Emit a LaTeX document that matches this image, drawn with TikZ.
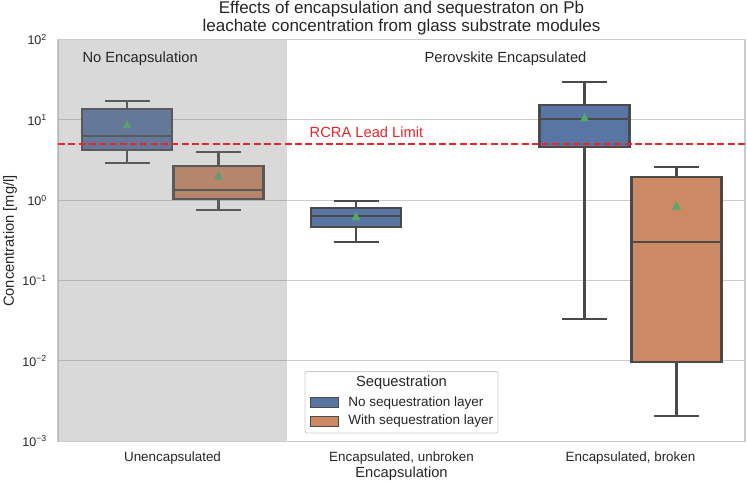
\documentclass[tikz,border=0pt]{standalone}
\usepackage{fontspec}
\setmainfont{Liberation Sans}
\usetikzlibrary{positioning}
\definecolor{boxblue}{HTML}{5975A4}
\definecolor{boxorange}{HTML}{CC8963}
\definecolor{boxline}{HTML}{4A4A4A}
\definecolor{meangreen}{HTML}{55A868}
\definecolor{gridgray}{HTML}{CCCCCC}
\definecolor{limitred}{HTML}{E8252B}
\definecolor{textgray}{HTML}{262626}

\begin{document}
\begin{tikzpicture}[
  x=1pt, y=80.3pt,
  every node/.style={text=textgray},
  gridline/.style={gridgray,line width=1pt},
  whisk/.style={boxline,line width=2.1pt},
  titlefont/.style={font=\fontsize{17}{20}\selectfont},
  bigtext/.style={font=\fontsize{14.7}{17}\selectfont},
  ticktext/.style={font=\fontsize{13.4}{16}\selectfont},
  ytick/.style={font=\fontsize{12.5}{15}\selectfont,anchor=east,inner sep=0pt},
  legpatch/.style={draw=boxline,line width=0.8pt,minimum width=28pt,minimum height=10pt,inner sep=0pt},
  legtext/.style={font=\fontsize{13.5}{16}\selectfont,inner sep=0pt,anchor=west}
]
\useasboundingbox (0,-3.532) rectangle (747,2.494);
% grid and frame
\foreach \d in {-2,...,1}
  \draw[gridline] (58,\d) -- (745,\d);
\draw[gridgray,line width=1.2pt] (58,-3) rectangle (745,2);
% boxes: centre / low whisker / q1 / median / q3 / high whisker / mean / colour
\foreach \cx/\lo/\qa/\md/\qb/\hi/\mn/\col in {
  127/0.468/0.626/0.795/1.133/1.237/0.946/boxblue,
  218.5/-0.121/0.016/0.128/0.431/0.605/0.306/boxorange,
  356/-0.516/-0.329/-0.192/-0.092/-0.009/-0.2/boxblue,
  584.5/-1.474/0.66/1.009/1.187/1.469/1.031/boxblue,
  676.5/-2.686/-2.01/-0.516/0.286/0.415/-0.067/boxorange}
{
  \draw[whisk] (\cx,\lo) -- (\cx,\qa) (\cx,\qb) -- (\cx,\hi);
  \draw[whisk] (\cx-22.5,\lo) -- (\cx+22.5,\lo) (\cx-22.5,\hi) -- (\cx+22.5,\hi);
  \filldraw[whisk,fill=\col] (\cx-45,\qa) rectangle (\cx+45,\qb);
  \draw[whisk] (\cx-45,\md) -- (\cx+45,\md);
  \fill[meangreen] (\cx,\mn) ++(0,4.5pt) -- ++(-4.5pt,-8.5pt) -- ++(9pt,0) -- cycle;
}
% shaded region
\fill[gray,fill opacity=0.3] (58,-3) rectangle (287,2);
% lead limit
\draw[limitred,line width=1.8pt,dash pattern=on 7pt off 3.3pt] (58,0.699) -- (745,0.699);
\node[bigtext,text=limitred] (rcra) at (366.5,0.85) {RCRA Lead Limit};
\node[bigtext,anchor=west] (noenc) at (79,1.76) {No Encapsulation};
\node[bigtext] (perenc) at (505.5,1.76) {Perovskite Encapsulated};
% title
\node[titlefont,anchor=base] (title1) at (401.5,2.328) {Effects of encapsulation and sequestraton on Pb};
\node[titlefont,anchor=base] (title2) at (401.5,2.1) {leachate concentration from glass substrate modules};
% axes text
\foreach \d/\s in {2/2,1/1,0/0,-1/−1,-2/−2,-3/−3}
  \node[ytick] (yt\d) at (47,\d) {10\textsuperscript{\s}};
\node[bigtext,rotate=90] (ylab) at (10,-0.508) {Concentration [mg/l]};
\node[ticktext] (xt1) at (172.5,-3.209) {Unencapsulated};
\node[ticktext] (xt2) at (401.5,-3.209) {Encapsulated, unbroken};
\node[ticktext] (xt3) at (630.5,-3.209) {Encapsulated, broken};
\node[bigtext] (xlab) at (401.5,-3.408) {Encapsulation};
% legend
\draw[gridgray,fill=white,rounded corners=2pt,line width=0.8pt] (305,-2.134) rectangle (498,-2.898);
\node[bigtext] (legtitle) at (401.5,-2.275) {Sequestration};
\node[legpatch,fill=boxblue] (lp1) at (324,-2.52) {};
\node[legpatch,fill=boxorange] (lp2) at (324,-2.753) {};
\node[legtext,right=9.7pt of lp1] (lt1) {No sequestration layer};
\node[legtext,right=9.7pt of lp2] (lt2) {With sequestration layer};
\end{tikzpicture}
\end{document}
